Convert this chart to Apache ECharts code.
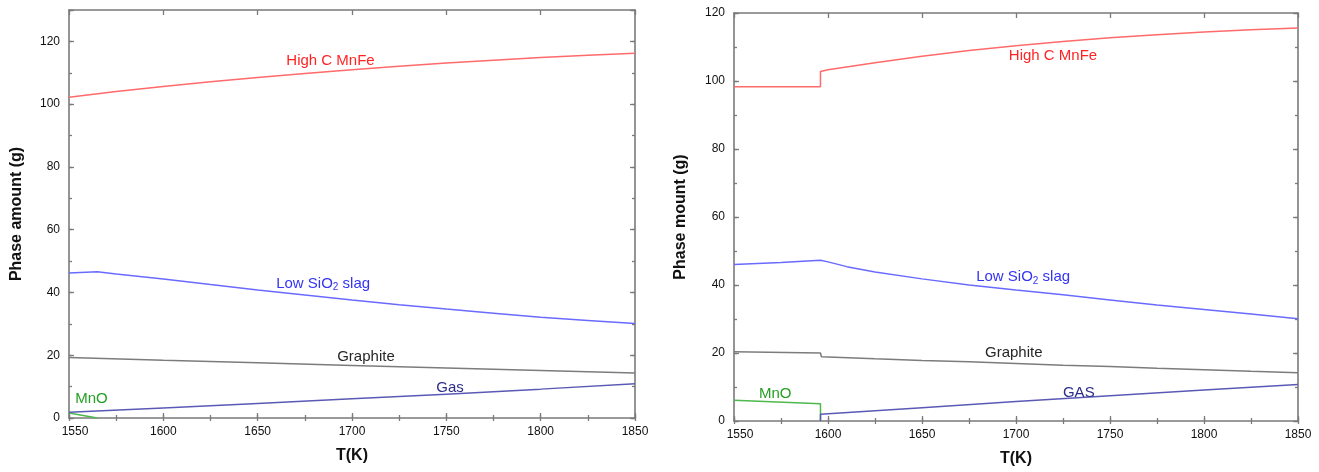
<!DOCTYPE html>
<html>
<head>
<meta charset="utf-8">
<script src="https://cdn.jsdelivr.net/npm/echarts@6/dist/echarts.min.js"></script>
<style>
  html, body { margin: 0; padding: 0; background: #ffffff; }
  #chart { width: 1319px; height: 472px; }
</style>
</head>
<body>
<div id="chart"></div>
<script>
// ---- Left panel: phase amounts (g) vs temperature (K) ----
const leftHighCTemp  = [1550, 1575, 1600, 1625, 1650, 1675, 1700, 1725, 1750, 1775, 1800, 1825, 1850];
const leftHighC      = [102.2, 104.0, 105.6, 107.1, 108.5, 109.8, 111.0, 112.1, 113.1, 114.0, 114.9, 115.6, 116.2];

const leftSlagTemp   = [1550, 1565, 1575, 1600, 1625, 1650, 1675, 1700, 1725, 1750, 1775, 1800, 1825, 1850];
const leftSlag       = [46.2, 46.6, 45.9, 44.3, 42.5, 40.8, 39.2, 37.6, 36.1, 34.7, 33.4, 32.1, 31.1, 30.1];

const leftGraphTemp  = [1550, 1600, 1650, 1700, 1750, 1800, 1850];
const leftGraphite   = [19.3, 18.4, 17.6, 16.7, 15.9, 15.1, 14.3];

const leftGasTemp    = [1550, 1600, 1650, 1700, 1750, 1800, 1850];
const leftGas        = [1.8, 3.2, 4.6, 6.1, 7.6, 9.2, 10.9];

const leftMnOTemp    = [1550, 1565];
const leftMnO        = [1.6, 0];

// ---- Right panel ----
const rightHighCTemp = [1550, 1596, 1596, 1600, 1625, 1650, 1675, 1700, 1725, 1750, 1775, 1800, 1825, 1850];
const rightHighC     = [98.3, 98.3, 102.8, 103.3, 105.4, 107.3, 109.0, 110.4, 111.6, 112.7, 113.6, 114.4, 115.1, 115.6];

const rightSlagTemp  = [1550, 1575, 1596, 1600, 1610, 1625, 1650, 1675, 1700, 1725, 1750, 1775, 1800, 1825, 1850];
const rightSlag      = [46.0, 46.6, 47.3, 46.8, 45.4, 43.8, 41.8, 40.0, 38.5, 37.1, 35.6, 34.1, 32.8, 31.5, 30.1];

const rightGraphTemp = [1550, 1596, 1596.5, 1625, 1650, 1675, 1700, 1725, 1750, 1775, 1800, 1825, 1850];
const rightGraphite  = [20.4, 20.0, 18.9, 18.3, 17.8, 17.4, 16.9, 16.4, 16.0, 15.5, 15.1, 14.6, 14.2];

const rightMnOTemp   = [1550, 1596, 1596];
const rightMnO       = [6.1, 5.1, 0];

const rightGasTemp   = [1596, 1596, 1650, 1700, 1750, 1800, 1850];
const rightGas       = [0, 2.0, 3.9, 5.7, 7.4, 9.1, 10.7];

// ---- Axis ranges and titles ----
const tempRange   = [1550, 1850];
const leftYMax    = 130;
const rightYMax   = 120;
const xTitle      = 'T(K)';
const leftYTitle  = 'Phase amount (g)';
const rightYTitle = 'Phase mount (g)';

// ---- Curve labels, anchored in data units [T, amount] ----
const leftLabels = {
  highC:    ['High C MnFe',       [1688.6, 113.7]],
  slag:     ['Low SiO|2| slag',   [1684.7, 42.9]],
  graphite: ['Graphite',          [1707.4, 19.6]],
  gas:      ['Gas',               [1752.0, 9.7]],
  mno:      ['MnO',               [1561.9, 6.0]]
};
const rightLabels = {
  highC:    ['High C MnFe',       [1719.7, 107.5]],
  slag:     ['Low SiO|2| slag',   [1703.8, 42.4]],
  graphite: ['Graphite',          [1698.8, 20.0]],
  gas:      ['GAS',               [1733.4, 8.3]],
  mno:      ['MnO',               [1571.9, 8.1]]
};

// ---- Styling ----
const FONT = '"Liberation Sans", Arial, Helvetica, sans-serif';
const AXIS_COLOR = '#7a7a7a';
const PHASES = {
  highC:    { line: '#ff6a6a', text: '#ff2424' },
  slag:     { line: '#6a6aff', text: '#3434f2' },
  graphite: { line: '#7c7c7c', text: '#262626' },
  gas:      { line: '#5a5ab6', text: '#2c2c8a' },
  mno:      { line: '#4db84d', text: '#25a025' }
};

function pairs(xs, ys) {
  return xs.map((x, i) => [x, ys[i]]);
}

// Label text: "a|b|c" means a + subscript b + c
function labelRich(color) {
  return {
    m: { fontSize: 15, fontFamily: FONT, color: color, lineHeight: 18, verticalAlign: 'middle' },
    s: { fontSize: 10, fontFamily: FONT, color: color, lineHeight: 10, verticalAlign: 'bottom' }
  };
}
function labelText(raw) {
  const parts = raw.split('|');
  if (parts.length === 1) return '{m|' + raw + '}';
  return '{m|' + parts[0] + '}{s|' + parts[1] + '}{m|' + parts[2] + '}';
}

function axisTick(len) {
  return { show: true, inside: true, length: len, lineStyle: { color: AXIS_COLOR, width: 1.3 } };
}

// Four x axes per grid: major/minor ticks on bottom and top frame edges
function buildXAxes(grid) {
  const base = {
    type: 'value', gridIndex: grid, min: tempRange[0], max: tempRange[1],
    splitLine: { show: false }, minorTick: { show: false },
    axisLine: { show: true, onZero: false, lineStyle: { color: AXIS_COLOR, width: 1.6 } }
  };
  return [
    Object.assign({}, base, {
      position: 'bottom', interval: 50, axisTick: axisTick(5),
      axisLabel: {
        show: true, margin: 8, color: '#111', fontSize: 12, fontFamily: FONT,
        // first label sits slightly to the right of its tick
        formatter: v => (v === tempRange[0] ? '{first|' + v + '}' : String(v)),
        rich: { first: { fontSize: 12, fontFamily: FONT, color: '#111', padding: [0, 0, 0, 12] } }
      },
      name: xTitle, nameLocation: 'middle', nameGap: 30,
      nameTextStyle: { color: '#111', fontSize: 16, fontWeight: 'bold', fontFamily: FONT }
    }),
    Object.assign({}, base, {
      position: 'bottom', interval: 25, axisTick: axisTick(3), axisLabel: { show: false },
      axisLine: { show: false }
    }),
    Object.assign({}, base, {
      position: 'top', interval: 50, axisTick: axisTick(5), axisLabel: { show: false }
    }),
    Object.assign({}, base, {
      position: 'top', interval: 25, axisTick: axisTick(3), axisLabel: { show: false },
      axisLine: { show: false }
    })
  ];
}

// Four y axes per grid: major/minor ticks on left and right frame edges
function buildYAxes(grid, yMax, title, gap) {
  const base = {
    type: 'value', gridIndex: grid, min: 0, max: yMax,
    splitLine: { show: false }, minorTick: { show: false },
    axisLine: { show: true, onZero: false, lineStyle: { color: AXIS_COLOR, width: 1.6 } }
  };
  return [
    Object.assign({}, base, {
      position: 'left', interval: 20, axisTick: axisTick(5),
      axisLabel: {
        show: true, margin: 9, color: '#111', fontSize: 12, fontFamily: FONT,
        formatter: v => (v % 20 === 0 ? String(v) : '')
      },
      name: title, nameLocation: 'middle', nameGap: gap,
      nameTextStyle: { color: '#111', fontSize: 16, fontWeight: 'bold', fontFamily: FONT }
    }),
    Object.assign({}, base, {
      position: 'left', interval: 10, axisTick: axisTick(3), axisLabel: { show: false },
      axisLine: { show: false }
    }),
    Object.assign({}, base, {
      position: 'right', interval: 20, axisTick: axisTick(5), axisLabel: { show: false }
    }),
    Object.assign({}, base, {
      position: 'right', interval: 10, axisTick: axisTick(3), axisLabel: { show: false },
      axisLine: { show: false }
    })
  ];
}

function phaseSeries(key, data, label, axisIdx) {
  const c = PHASES[key];
  return {
    type: 'line',
    xAxisIndex: axisIdx,
    yAxisIndex: axisIdx,
    data: data,
    showSymbol: false,
    symbol: 'none',
    silent: true,
    animation: false,
    z: key === 'gas' ? 3 : 2,
    lineStyle: { color: c.line, width: 1.5 },
    markPoint: {
      symbol: 'circle', symbolSize: 0, silent: true, animation: false,
      itemStyle: { color: 'rgba(0,0,0,0)' },
      label: {
        show: true, position: 'inside',
        formatter: () => labelText(label[0]),
        rich: labelRich(c.text)
      },
      data: [{ coord: label[1] }]
    }
  };
}

const xAxes = buildXAxes(0).concat(buildXAxes(1));
const yAxes = buildYAxes(0, leftYMax, leftYTitle, 44).concat(buildYAxes(1, rightYMax, rightYTitle, 45));

const series = [
  phaseSeries('highC',    pairs(leftHighCTemp, leftHighC),   leftLabels.highC,    0),
  phaseSeries('slag',     pairs(leftSlagTemp, leftSlag),     leftLabels.slag,     0),
  phaseSeries('graphite', pairs(leftGraphTemp, leftGraphite), leftLabels.graphite, 0),
  phaseSeries('mno',      pairs(leftMnOTemp, leftMnO),       leftLabels.mno,      0),
  phaseSeries('gas',      pairs(leftGasTemp, leftGas),       leftLabels.gas,      0),

  phaseSeries('highC',    pairs(rightHighCTemp, rightHighC),   rightLabels.highC,    4),
  phaseSeries('slag',     pairs(rightSlagTemp, rightSlag),     rightLabels.slag,     4),
  phaseSeries('graphite', pairs(rightGraphTemp, rightGraphite), rightLabels.graphite, 4),
  phaseSeries('mno',      pairs(rightMnOTemp, rightMnO),       rightLabels.mno,      4),
  phaseSeries('gas',      pairs(rightGasTemp, rightGas),       rightLabels.gas,      4)
];

const chart = echarts.init(document.getElementById('chart'), null, { renderer: 'canvas' });
chart.setOption({
  backgroundColor: '#ffffff',
  animation: false,
  textStyle: { fontFamily: FONT },
  grid: [
    { left: 69,  top: 10, width: 566, height: 408, containLabel: false },
    { left: 734, top: 13, width: 564, height: 408, containLabel: false }
  ],
  xAxis: xAxes,
  yAxis: yAxes,
  series: series
});
</script>
</body>
</html>
